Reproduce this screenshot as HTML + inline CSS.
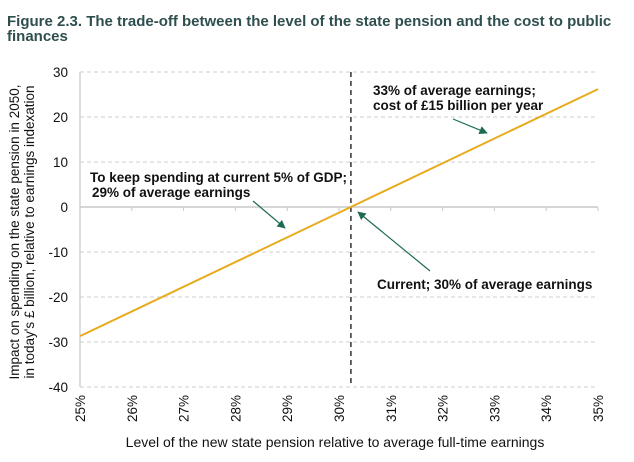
<!DOCTYPE html>
<html><head><meta charset="utf-8"><style>
body{margin:0;background:#fff;}
svg{display:block;font-family:"Liberation Sans Narrow","Liberation Sans",sans-serif;}
</style></head><body>
<svg width="634" height="462" viewBox="0 0 634 462">
<defs><marker id="ah" viewBox="0 0 10 10" refX="9" refY="5" markerWidth="7" markerHeight="7" orient="auto"><path d="M0,0L10,5L0,10z" fill="#1d6b52"/></marker></defs>
<text x="7" y="26" font-size="15" font-weight="bold" fill="#2f4f4f">Figure 2.3. The trade-off between the level of the state pension and the cost to public</text>
<text x="7" y="41" font-size="15" font-weight="bold" fill="#2f4f4f">finances</text>
<g id="grid"></g><g id="axes"></g><g id="series"></g>
<g font-family="Liberation Sans,sans-serif" font-size="13.5" font-weight="bold" fill="#111">
<text x="90" y="182">To keep spending at current 5% of GDP;</text>
<text x="92" y="197">29% of average earnings</text>
<text x="373" y="95">33% of average earnings;</text>
<text x="373" y="110">cost of £15 billion per year</text>
<text x="377" y="289">Current; 30% of average earnings</text>
</g>
<g stroke="#1d6b52" stroke-width="1.2" marker-end="url(#ah)">
<line x1="253" y1="201" x2="285" y2="228"/>
<line x1="453" y1="119" x2="487" y2="133"/>
<line x1="430" y1="271" x2="358" y2="212"/>
</g>
<text transform="translate(19,232) rotate(-90)" text-anchor="middle" font-family="Liberation Sans,sans-serif" font-size="13.5" fill="#111">Impact on spending on the state pension in 2050,</text>
<text transform="translate(34,232) rotate(-90)" text-anchor="middle" font-family="Liberation Sans,sans-serif" font-size="13.5" fill="#111">in today's £ billion, relative to earnings indexation</text>
<text x="335" y="447" text-anchor="middle" font-family="Liberation Sans,sans-serif" font-size="14" fill="#111">Level of the new state pension relative to average full-time earnings</text>
</svg>
<script>
const xTicks=[25,26,27,28,29,30,31,32,33,34,35];
const yTicks=[30,20,10,0,-10,-20,-30,-40];
const lineX=[25,30.23,35];
const lineY=[-28.7,0,26.2];
const currentX=[30.23];
const NS="http://www.w3.org/2000/svg";
const X0=80,X1=598,Y0=72,Y1=387;
const xs=v=>X0+(v-25)/(35-25)*(X1-X0);
const ys=v=>Y0+(30-v)/(70)*(Y1-Y0);
function mk(t,a,p){const e=document.createElementNS(NS,t);for(const k in a)e.setAttribute(k,a[k]);p.appendChild(e);return e;}
const grid=document.getElementById('grid'),axes=document.getElementById('axes'),ser=document.getElementById('series');
yTicks.forEach(v=>{
 const l=mk('line',{x1:X0,x2:X1,y1:ys(v),y2:ys(v),stroke:v===0?'#c8c8c8':'#cfcfcf','stroke-width':v===0?1.5:1,'stroke-dasharray':v===0?'none':'4,3'},grid);
 
 
 const t=mk('text',{x:68,y:ys(v)+5,'text-anchor':'end','font-size':13.5,'font-family':'Liberation Sans,sans-serif',fill:'#111'},axes);
 t.textContent=v;
 
 
});
const ya=mk('line',{x1:X0,x2:X0,y1:Y0,y2:Y1,stroke:'#c8c8c8','stroke-width':1.2},axes);


xTicks.forEach(v=>{
 const tk=mk('line',{x1:xs(v),x2:xs(v),y1:ys(0),y2:ys(0)+4,stroke:'#c8c8c8'},axes);
 
 
 const t=mk('text',{transform:`translate(${xs(v)+5},${Y1+35}) rotate(-90)`,'font-size':13.5,'font-family':'Liberation Sans,sans-serif',fill:'#111'},axes);
 t.textContent=v+'%';
 
 
});
currentX.forEach(v=>{
 const d=mk('line',{x1:xs(v),x2:xs(v),y1:Y0,y2:Y1,stroke:'#111','stroke-width':1.3,'stroke-dasharray':'5,4'},ser);
 
 
});
const p=mk('polyline',{points:lineX.map((x,i)=>xs(x)+','+ys(lineY[i])).join(' '),fill:'none',stroke:'#e8ab1c','stroke-width':2},ser);


</script>
</body></html>
